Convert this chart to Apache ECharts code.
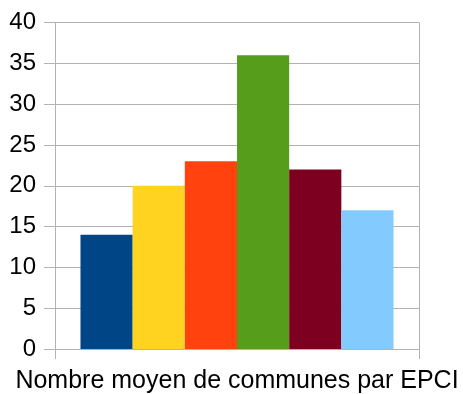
<!DOCTYPE html>
<html><head><meta charset="utf-8">
<script src="https://cdn.jsdelivr.net/npm/echarts@6/dist/echarts.min.js"></script>
<style>html,body{margin:0;padding:0;background:#fff}#c{width:463px;height:394px}</style>
</head><body><div id="c"></div>
<script>
const categories = ["Nombre moyen de communes par EPCI"];
const seriesNames = ["S1","S2","S3","S4","S5","S6"];
const seriesValues = [14, 20, 23, 36, 22, 17];
const seriesColors = ["#004586","#ffd320","#ff420e","#579d1c","#7e0021","#83caff"];
const yTicks = [0,5,10,15,20,25,30,35,40];

const chart = echarts.init(document.getElementById('c'));
const gridColor = '#b3b3b3';
chart.setOption({
  animation: false,
  grid: {left: 55, right: 44, top: 22.5, bottom: 44.5},
  xAxis: {
    type: 'category', data: categories,
    axisLine: {show: true, lineStyle: {color: gridColor, width: 1}},
    axisTick: {show: true, length: 10, lineStyle: {color: gridColor}},
    splitLine: {show: true, lineStyle: {color: gridColor}},
    axisLabel: {color: '#000', fontFamily: 'Liberation Sans', fontSize: 25, margin: 20}
  },
  yAxis: {
    type: 'value', min: yTicks[0], max: yTicks[yTicks.length-1], interval: 5,
    axisLine: {show: true, lineStyle: {color: gridColor}},
    axisTick: {show: true, length: 11, lineStyle: {color: gridColor}},
    splitLine: {show: true, lineStyle: {color: gridColor}},
    axisLabel: {color: '#000', fontFamily: 'Liberation Sans', fontSize: 24, margin: 19}
  },
  series: seriesNames.map((n, i) => ({
    name: n, type: 'bar', data: [seriesValues[i]],
    itemStyle: {color: seriesColors[i]},
    barGap: '0%', barCategoryGap: '14%'
  }))
});
</script></body></html>
